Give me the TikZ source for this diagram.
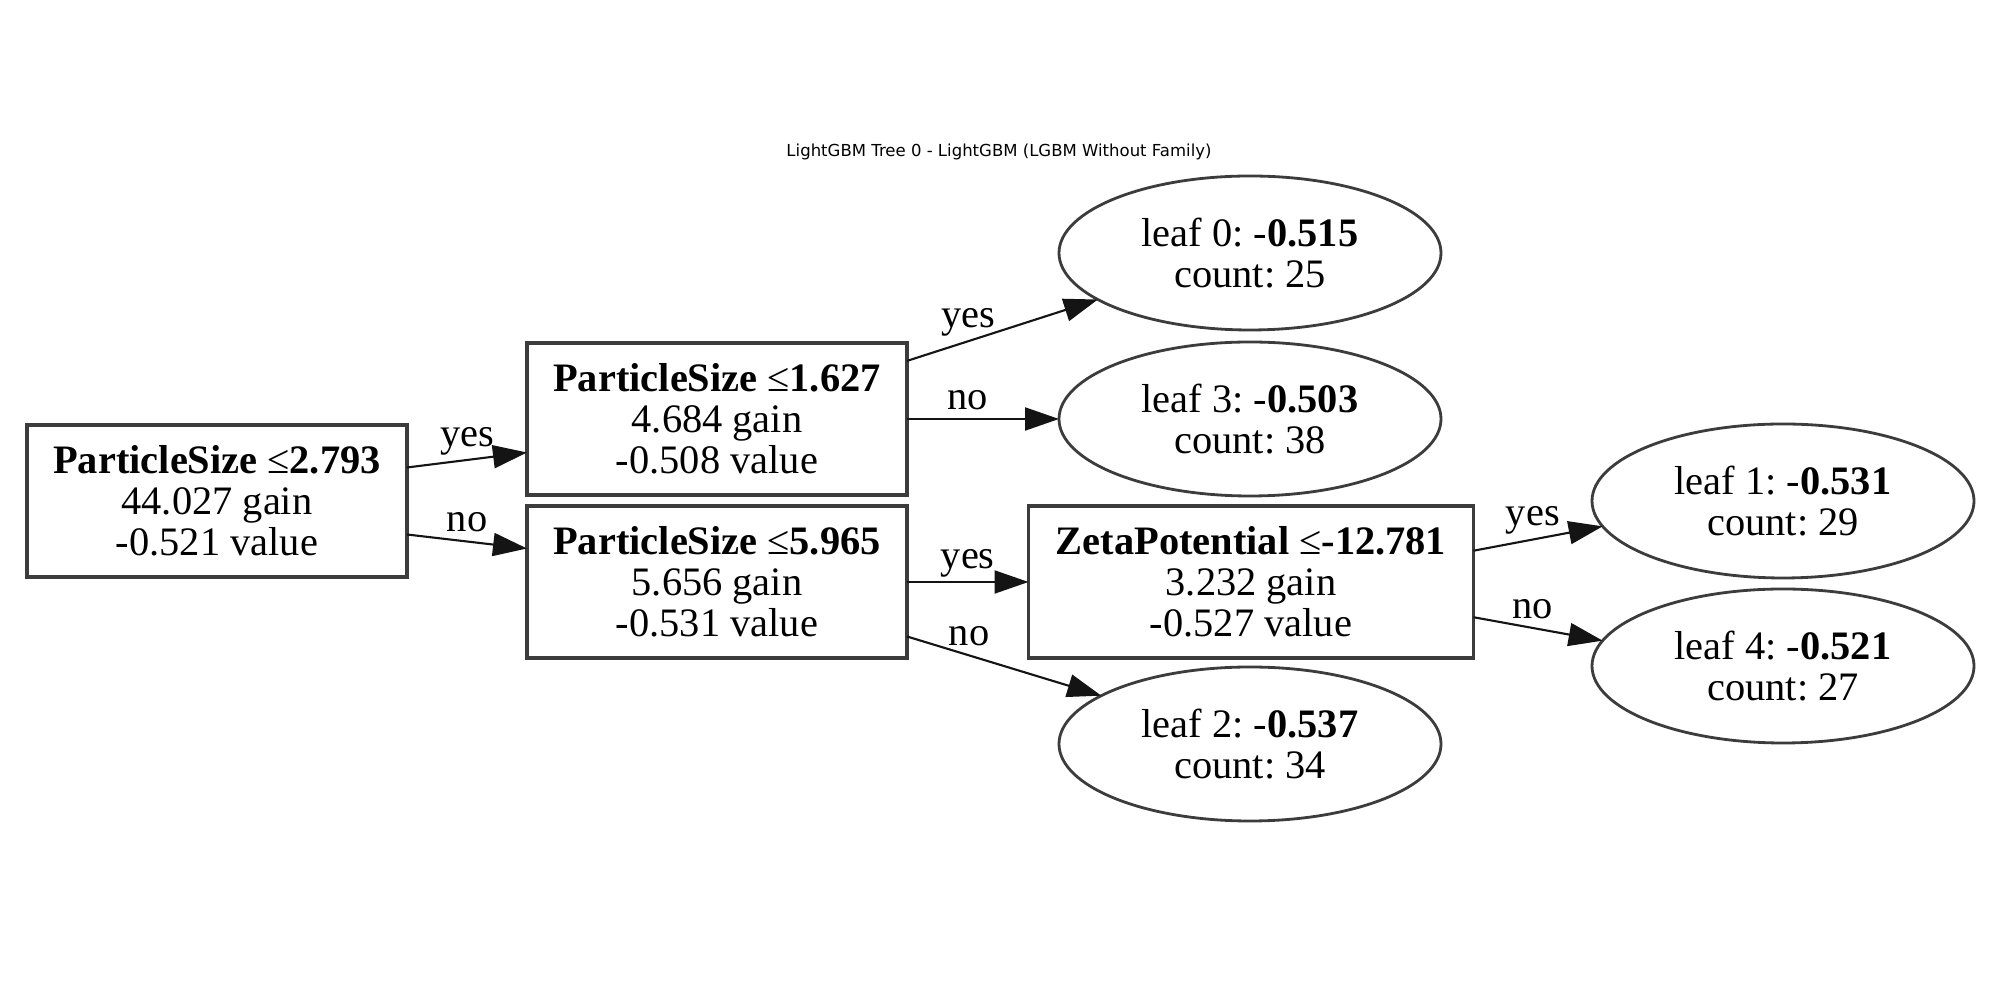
\documentclass[tikz,border=0pt]{standalone}
\usepackage{fontspec}
\usepackage{xcolor}
\usepackage{tikz}
\usetikzlibrary{arrows.meta,shapes.geometric}
\setmainfont{Liberation Serif}
\newfontfamily\titlefont{DejaVu Sans}
\definecolor{boxgray}{RGB}{60,60,60}
\definecolor{edgeblack}{RGB}{20,20,20}

\begin{document}
\frenchspacing
\begin{tikzpicture}[every node/.style={font=\fontsize{11.5}{11.7}\selectfont, inner sep=0pt, outer sep=0pt, align=center},
  split/.style={draw=boxgray, line width=0.9pt, rectangle, minimum width=3.8cm, minimum height=1.52cm},
  leaf/.style={draw=boxgray, line width=0.8pt, ellipse, minimum width=3.82cm, minimum height=1.54cm},
  branch/.style={draw=edgeblack, line width=0.6pt, -{Triangle[length=3.4mm, width=2.3mm]}},
  answer/.style={yshift=1.9mm}]
  \useasboundingbox (0,0) rectangle (20,-10);

  % title
  \node[font=\titlefont\fontsize{4.7}{5.6}\selectfont] (title) at (9.99,-1.52) {LightGBM Tree 0 - LightGBM (LGBM Without Family)};

  % split nodes
  \node[split] (root) at (2.17,-5.01) {\textbf{ParticleSize }≤\textbf{2.793}\\44.027 gain\\-0.521 value};
  \node[split] (splitA) at (7.17,-4.19) {\textbf{ParticleSize }≤\textbf{1.627}\\4.684 gain\\-0.508 value};
  \node[split] (splitB) at (7.17,-5.82) {\textbf{ParticleSize }≤\textbf{5.965}\\5.656 gain\\-0.531 value};
  \node[split, minimum width=4.45cm] (splitZ) at (12.51,-5.82) {\textbf{ZetaPotential }≤\textbf{-12.781}\\3.232 gain\\-0.527 value};

  % leaves
  \node[leaf] (leaf0) at (12.50,-2.53) {leaf 0: -\textbf{0.515}\\count: 25};
  \node[leaf] (leaf3) at (12.50,-4.19) {leaf 3: -\textbf{0.503}\\count: 38};
  \node[leaf] (leaf2) at (12.50,-7.44) {leaf 2: -\textbf{0.537}\\count: 34};
  \node[leaf] (leaf1) at (17.83,-5.01) {leaf 1: -\textbf{0.531}\\count: 29};
  \node[leaf] (leaf4) at (17.83,-6.66) {leaf 4: -\textbf{0.521}\\count: 27};

  % branches
  \draw[branch] (root.10) -- node[pos=0.5, answer] (rootyes) {yes} (splitA.190);
  \draw[branch] (root.-10) -- node[pos=0.5, answer] (rootno) {no} (splitB.170);
  \draw[branch] (splitA.17) -- node[pos=0.32, answer] (Ayes) {yes} (leaf0.197.4);
  \draw[branch] (splitA.east) -- node[pos=0.4, answer] (Ano) {no} (leaf3.west);
  \draw[branch] (splitB.east) -- node[pos=0.5, answer] (Byes) {yes} (splitZ.west);
  \draw[branch] (splitB.-16.6) -- node[pos=0.32, answer] (Bno) {no} (leaf2.162.6);
  \draw[branch] (splitZ.8.7) -- node[pos=0.46, answer] (Zyes) {yes} (leaf1.188);
  \draw[branch] (splitZ.-9) -- node[pos=0.46, answer] (Zno) {no} (leaf4.172);
\end{tikzpicture}
\end{document}
